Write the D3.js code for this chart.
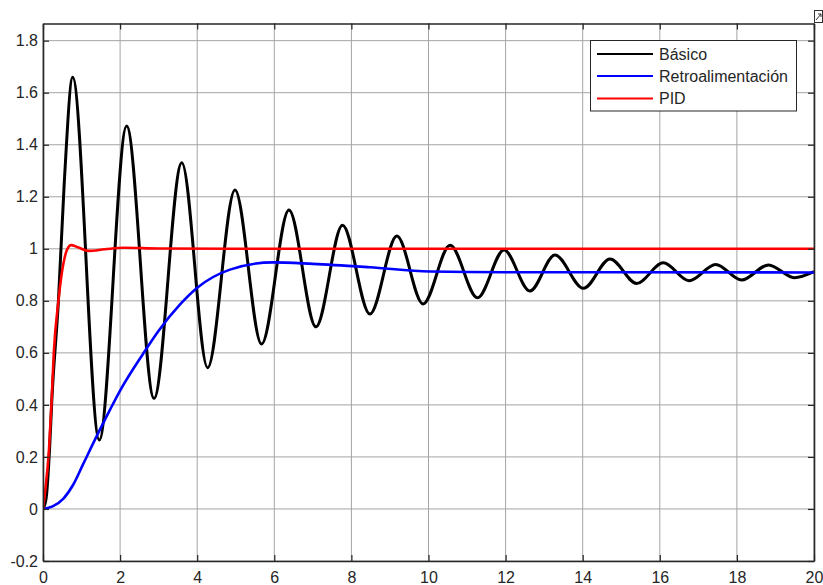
<!DOCTYPE html>
<html>
<head>
<meta charset="utf-8">
<script src="https://cdn.jsdelivr.net/npm/d3@7"></script>
<style>
  html, body { margin: 0; padding: 0; background: #fff; }
  svg { display: block; }
  text { font-family: "Liberation Sans", Arial, sans-serif; }
</style>
</head>
<body>
<svg id="chart" width="823" height="585"></svg>
<script>
// ---- data ----
const xTicks = [0, 2, 4, 6, 8, 10, 12, 14, 16, 18, 20];
const yTicks = [-0.2, 0, 0.2, 0.4, 0.6, 0.8, 1, 1.2, 1.4, 1.6, 1.8];

const seriesNames = ["Básico", "Retroalimentación", "PID"];
const seriesColors = ["#000000", "#0000ff", "#ff0000"];

const basicT = [0, 0.08, 0.17, 0.23, 0.40, 0.55, 0.77, 1.46, 2.17, 2.88, 3.60, 4.27, 4.98, 5.67, 6.38, 7.08, 7.77, 8.48, 9.18, 9.86, 10.56, 11.27, 11.96, 12.63, 13.28, 14.02, 14.71, 15.40, 16.09, 16.76, 17.45, 18.12, 18.82, 19.49, 20];
const basicY = [0, 0.04, 0.23, 0.42, 0.80, 1.25, 1.659, 0.265, 1.472, 0.425, 1.331, 0.543, 1.226, 0.634, 1.149, 0.700, 1.091, 0.749, 1.049, 0.788, 1.014, 0.812, 0.995, 0.838, 0.976, 0.848, 0.961, 0.867, 0.946, 0.877, 0.940, 0.880, 0.938, 0.889, 0.912];

const fbT = [0, 0.25, 0.53, 0.79, 1.05, 1.46, 1.75, 2.0, 2.59, 3.0, 3.55, 4.0, 4.85, 5.97, 7.0, 8.48, 10.04, 12, 15, 20];
const fbY = [0, 0.01, 0.04, 0.095, 0.175, 0.30, 0.385, 0.455, 0.595, 0.685, 0.785, 0.85, 0.92, 0.948, 0.942, 0.929, 0.913, 0.910, 0.910, 0.909];

const pidT = [0, 0.05, 0.155, 0.225, 0.28, 0.40, 0.53, 0.62, 0.73, 0.9, 1.18, 1.6, 2.1, 3.0, 5, 20];
const pidY = [0, 0.06, 0.227, 0.42, 0.60, 0.80, 0.944, 0.995, 1.014, 1.006, 0.992, 0.998, 1.004, 1.001, 1.0, 1.0];

// ---- layout ----
const svg = d3.select("#chart");
const x = d3.scaleLinear().domain([0, 20]).range([43, 814]);
const y = d3.scaleLinear().domain([-0.2, 1.866]).range([561, 23.5]);
const axisColor = "#262626";
const fmt = v => String(+v.toFixed(1));

// grid
const grid = svg.append("g");
grid.selectAll("line.gx").data(xTicks).join("line")
  .attr("x1", d => x(d)).attr("x2", d => x(d))
  .attr("y1", y.range()[0]).attr("y2", y.range()[1])
  .attr("stroke", "#a4a4a4").attr("stroke-width", 1);
grid.selectAll("line.gy").data(yTicks).join("line")
  .attr("y1", d => y(d)).attr("y2", d => y(d))
  .attr("x1", x.range()[0]).attr("x2", x.range()[1])
  .attr("stroke", "#a4a4a4").attr("stroke-width", 1);

// series
const series = [
  {t: basicT, v: basicY, w: 3},
  {t: fbT, v: fbY, w: 2.6},
  {t: pidT, v: pidY, w: 2.6}
];
const line = d3.line().curve(d3.curveMonotoneX).x(d => x(d[0])).y(d => y(d[1]));
svg.append("clipPath").attr("id", "clip").append("rect")
  .attr("x", x.range()[0]).attr("y", y.range()[1])
  .attr("width", x.range()[1] - x.range()[0]).attr("height", y.range()[0] - y.range()[1]);
series.forEach((s, i) => {
  svg.append("path")
    .datum(s.t.map((t, j) => [t, s.v[j]]))
    .attr("clip-path", "url(#clip)")
    .attr("fill", "none")
    .attr("stroke", seriesColors[i])
    .attr("stroke-width", s.w)
    .attr("stroke-linejoin", "round")
    .attr("d", line);
});

// axes
function styleAxis(g) {
  g.select(".domain").attr("stroke", axisColor).attr("stroke-width", 1.6);
  g.selectAll(".tick line").attr("stroke", axisColor).attr("stroke-width", 1.2);
  g.selectAll(".tick text").attr("fill", axisColor).attr("font-size", 16)
    .attr("font-family", "'Liberation Sans', Arial, sans-serif");
}
svg.append("g").attr("transform", `translate(0,${y.range()[0]})`)
  .call(d3.axisBottom(x).tickValues(xTicks).tickFormat(fmt).tickSizeInner(-6).tickSizeOuter(0).tickPadding(10.5))
  .call(styleAxis);
svg.append("g").attr("transform", `translate(${x.range()[0]},0)`)
  .call(d3.axisLeft(y).tickValues(yTicks).tickFormat(fmt).tickSizeInner(-6).tickSizeOuter(0).tickPadding(5))
  .call(styleAxis);
svg.append("g").attr("transform", `translate(0,${y.range()[1]})`)
  .call(d3.axisTop(x).tickValues(xTicks).tickFormat("").tickSizeInner(-6).tickSizeOuter(0))
  .call(styleAxis);
svg.append("g").attr("transform", `translate(${x.range()[1]},0)`)
  .call(d3.axisRight(y).tickValues(yTicks).tickFormat("").tickSizeInner(-6).tickSizeOuter(0))
  .call(styleAxis);

// legend
const lg = svg.append("g");
lg.append("rect").attr("x", 590.5).attr("y", 40.5).attr("width", 206).attr("height", 70.5)
  .attr("fill", "#fff").attr("stroke", axisColor).attr("stroke-width", 1);
const rowY = [54, 76, 98.5];
seriesNames.forEach((n, i) => {
  lg.append("line").attr("x1", 597).attr("x2", 653).attr("y1", rowY[i]).attr("y2", rowY[i])
    .attr("stroke", seriesColors[i]).attr("stroke-width", 2);
  lg.append("text").attr("x", 659).attr("y", rowY[i]).attr("dy", "0.35em")
    .attr("font-size", 16).attr("fill", axisColor).text(n);
});

// small toolbar icon top-right
svg.append("rect").attr("x", 814.5).attr("y", 10.5).attr("width", 8).attr("height", 12)
  .attr("fill", "#fff").attr("stroke", "#333").attr("stroke-width", 1);
svg.append("path").attr("d", "M816,20 L821,14 M818,14 L821,14 L821,17")
  .attr("fill", "none").attr("stroke", "#333").attr("stroke-width", 1);
</script>
</body>
</html>
